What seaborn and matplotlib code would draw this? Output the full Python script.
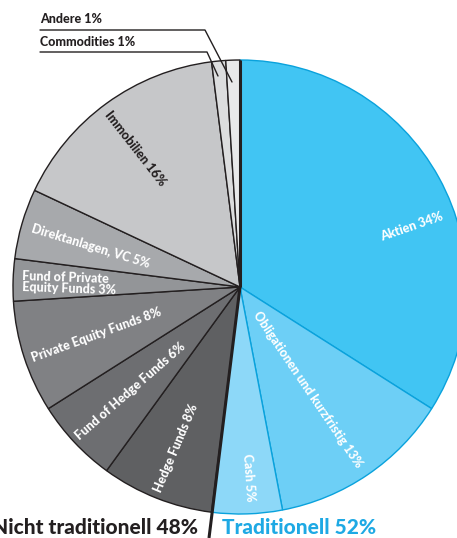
import matplotlib
matplotlib.use('Agg')
import matplotlib.pyplot as plt
import seaborn as sns

# slices, clockwise from 12 o'clock
labels = ['Aktien 34%', 'Obligationen und kurzfristig 13%', 'Cash 5%',
          'Hedge Funds 8%', 'Fund of Hedge Funds 6%', 'Private Equity Funds 8%',
          'Fund of Private\nEquity Funds 3%', 'Direktanlagen, VC 5%',
          'Immobilien 16%', 'Commodities 1%', 'Andere 1%']
shares = [34, 13, 5, 8, 6, 8, 3, 5, 16, 1, 1]
colors = ['#41C5F3', '#6DCFF6', '#8DD8F8', '#5F6062', '#6D6E71', '#808184',
          '#939598', '#A7A9AC', '#C6C7C9', '#DCDDDE', '#E8E9EA']
traditional = [True, True, True, False, False, False, False, False, False, False, False]

group_labels = ['Nicht traditionell 48%', 'Traditionell 52%']

sns.set_theme(style='white')
plt.rcParams['font.family'] = ['Lato', 'DejaVu Sans']

W, H = 457, 538
fig = plt.figure(figsize=(W / 100, H / 100), dpi=100)
ax = fig.add_axes([0, 0, 1, 1])

cx, cy, r = 240, H - 287, 227
wedges, _ = ax.pie(shares, colors=colors, startangle=90, counterclock=False,
                   center=(cx, cy), radius=r, frame=True,
                   wedgeprops=dict(linewidth=1.0))
for w, trad in zip(wedges, traditional):
    w.set_edgecolor('#0AA2DC' if trad else '#231F20')
ax.set_xlim(0, W)
ax.set_ylim(0, H)
ax.set_aspect('equal')
ax.axis('off')

# thick divider between traditional and non-traditional
ax.plot([cx, cx], [cy, cy + r], color='#231F20', lw=2.2, solid_capstyle='butt')
ax.plot([cx, 209], [cy, H - 538], color='#231F20', lw=2.2, solid_capstyle='butt')

# label positions (pixel coords from top-left) and rotation
inner = {
    0: (412, 227, 19),
    1: (308, 390, -56),
    2: (249, 478, -86),
    3: (176, 448, 67),
    4: (130, 391, 41),
    5: (96, 335, 20),
    7: (91, 246, -17),
    8: (135, 148, -52),
}
tf = dict(fontweight='black', fontsize=9, ha='center', va='center',
          rotation_mode='anchor')
for i, (x, y, rot) in inner.items():
    col = '#231F20' if i == 8 else 'white'
    ax.text(x, H - y, labels[i], rotation=rot, color=col, **tf)
ax.text(22, H - 283, labels[6], rotation=-2, color='white', fontweight='black',
        fontsize=9, ha='left', va='center', linespacing=0.95)

# outside labels with leader lines
ax.text(40, H - 23, labels[10], color='#231F20', fontweight='black', fontsize=9,
        ha='left', va='baseline')
ax.plot([40, 205, 232], [H - 30, H - 30, H - 82], color='#231F20', lw=1.0)
ax.text(40, H - 46, labels[9], color='#231F20', fontweight='black', fontsize=9,
        ha='left', va='baseline')
ax.plot([40, 207, 218], [H - 52, H - 52, H - 76], color='#231F20', lw=1.0)

# group captions
ax.text(198, H - 528, group_labels[0], color='#231F20', fontweight='black',
        fontsize=15, ha='right', va='center')
ax.text(222, H - 528, group_labels[1], color='#1EA9E4', fontweight='black',
        fontsize=15, ha='left', va='center')

fig.savefig('out.png', dpi=100)
